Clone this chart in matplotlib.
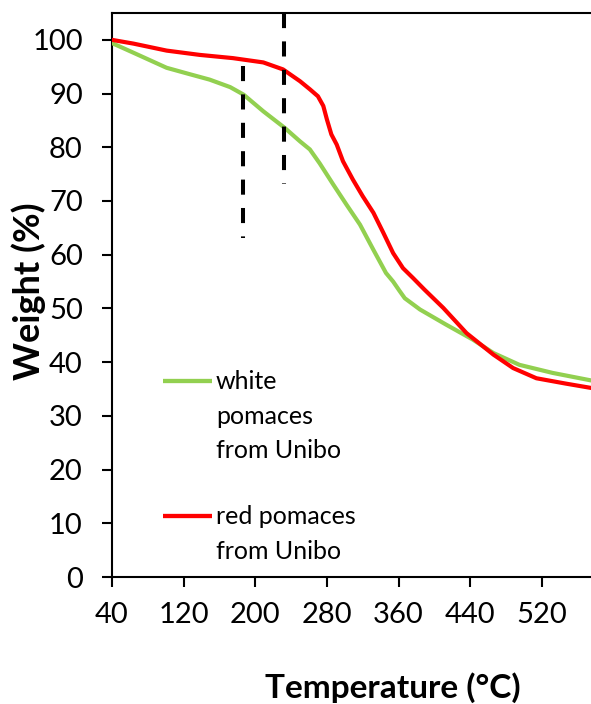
import matplotlib
matplotlib.use("Agg")
import matplotlib.pyplot as plt

plt.rcParams['font.family'] = ['Lato', 'DejaVu Sans']

# ---- data ----
white_T = [40, 64, 101, 127, 149, 172, 187, 209, 233, 250, 261, 272, 287, 302,
           317, 332, 346, 354, 361, 367, 384, 413, 443, 466, 495, 532, 575]
white_W = [99.4, 97.6, 94.8, 93.6, 92.6, 91.2, 89.8, 86.7, 83.6, 81.1, 79.6, 77.0,
           73.1, 69.3, 65.6, 60.9, 56.6, 55.0, 53.3, 51.9, 49.8, 47.0, 44.2, 41.7,
           39.5, 38.0, 36.6]

red_T = [40, 64, 101, 138, 175, 209, 231, 250, 261, 270, 276, 280, 285, 291, 298,
         309, 320, 332, 343, 354, 365, 376, 389, 410, 436, 466, 488, 514, 547, 575]
red_W = [100.0, 99.3, 98.0, 97.2, 96.6, 95.8, 94.5, 92.3, 90.8, 89.5, 87.7, 85.2,
         82.4, 80.5, 77.4, 74.0, 70.9, 67.8, 64.1, 60.3, 57.5, 55.7, 53.5, 50.1,
         45.4, 41.4, 38.9, 37.0, 36.0, 35.2]

dash_T = [186, 232]
dash_top = [95.2, 105.0]
dash_bottom = [63.1, 73.1]

labels = ["white\npomaces\nfrom Unibo", "red pomaces\nfrom Unibo"]
colors = ["#92D050", "#FF0000"]

x_ticks = [40, 120, 200, 280, 360, 440, 520]
y_ticks = [0, 10, 20, 30, 40, 50, 60, 70, 80, 90, 100]

# ---- figure ----
W_PX, H_PX = 591, 704
fig = plt.figure(figsize=(W_PX / 100, H_PX / 100), dpi=100)
ax = fig.add_axes([112 / W_PX, (H_PX - 577) / H_PX, (W_PX - 112) / W_PX, 564 / H_PX])

ax.plot(white_T, white_W, color=colors[0], lw=3.0, solid_joinstyle='round', zorder=3)
ax.plot(red_T, red_W, color=colors[1], lw=3.0, solid_joinstyle='round', zorder=3)

for t, top, bot in zip(dash_T, dash_top, dash_bottom):
    ax.plot([t, t], [top, bot], color='black', lw=2.9,
            linestyle=(0, (3.75, 3.3)), dash_capstyle='butt', zorder=4)

ax.set_xlim(40, 575)
ax.set_ylim(0, 105)
ax.set_xticks(x_ticks)
ax.set_yticks(y_ticks)

for s in ['left', 'bottom', 'top']:
    ax.spines[s].set_linewidth(1.5)
ax.spines['right'].set_visible(False)

ax.tick_params(axis='both', direction='out', length=7, width=1.5, labelsize=21)
ax.tick_params(axis='x', pad=11)
ax.tick_params(axis='y', pad=14)

ax.set_xlabel("Temperature (°C)", fontsize=24, fontweight='bold')
ax.xaxis.set_label_coords((393 - 112) / 479, (577 - 688) / 564)
ax.xaxis.label.set_va('center')
ax.set_ylabel("Weight (%)", fontsize=26, fontweight='bold')
ax.yaxis.set_label_coords((29 - 112) / 479, (577 - 291) / 564)
ax.yaxis.label.set_va('center')

# ---- legend (drawn manually to keep handle on the first text line) ----
handle_x0 = (163 - 112) / 479
handle_x1 = (212 - 112) / 479
text_x = (216 - 112) / 479
handle_y = [(577 - 380.7) / 564, (577 - 515.7) / 564]
first_baseline = [(577 - 389.3) / 564, (577 - 524.3) / 564]
line_step = 34.3 / 564
for lab, col, hy, by in zip(labels, colors, handle_y, first_baseline):
    ax.plot([handle_x0, handle_x1], [hy, hy], color=col, lw=3.1,
            transform=ax.transAxes, solid_capstyle='butt', clip_on=False)
    for i, part in enumerate(lab.split("\n")):
        ax.text(text_x, by - i * line_step, part, transform=ax.transAxes,
                fontsize=18, ha='left', va='baseline', color='black')

fig.savefig("out.png", dpi=100)
